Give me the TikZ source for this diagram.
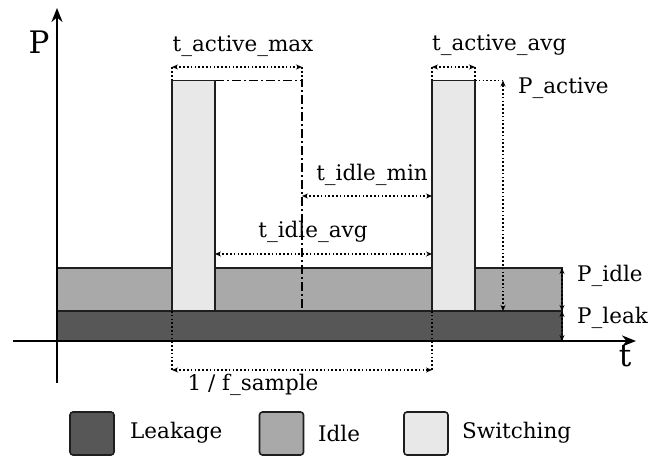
\documentclass[tikz,border=0pt]{standalone}
\usepackage{fontspec}
\setmainfont{DejaVu Serif}
\usetikzlibrary{arrows.meta}
\definecolor{leakc}{HTML}{575757}
\definecolor{idlec}{HTML}{A9A9A9}
\definecolor{swc}{HTML}{E8E8E8}
\definecolor{linec}{HTML}{1E1E1E}
\tikzset{
  band/.style={draw=linec, line width=1.6pt},
  axis/.style={line width=2.6pt, -{Stealth[length=14pt,width=11pt]}},
  dimarrow/.style={line width=1.3pt, dash pattern=on 1.6pt off 2.2pt, {Stealth[length=6pt,width=5pt]}-{Stealth[length=6pt,width=5pt]}},
  dimline/.style={line width=1.3pt, dash pattern=on 1.6pt off 2.2pt},
  dashdot/.style={line width=1.5pt, dash pattern=on 9pt off 3pt on 2pt off 3pt},
  lbl/.style={font=\fontsize{21.5}{23}\selectfont, inner sep=0pt},
  biglbl/.style={font=\fontsize{31}{33}\selectfont, inner sep=0pt},
  legbox/.style={draw=linec, line width=1.6pt, rounded corners=3pt, minimum width=44pt, minimum height=43pt, inner sep=0pt}
}
\begin{document}
\begin{tikzpicture}[x=1pt,y=-1pt]
\useasboundingbox (0,0) rectangle (657,457);
% coordinates
\coordinate (o) at (57,341);
\coordinate (ytop) at (57,8);
\coordinate (ybot) at (57,383);
\coordinate (xl) at (13,341);
\coordinate (xr) at (636,341);
% bands
\draw[band, fill=leakc] (57,311) rectangle (562,341);
\draw[band, fill=idlec] (57,268) rectangle (562,311);
% dash-dot
\coordinate (dd1) at (215,80.5);
\coordinate (dd2) at (302,80.5);
\coordinate (dd3) at (302,311);
\draw[dashdot] (dd1) -- (dd2) -- (dd3);
% switching bars
\draw[band, fill=swc] (172,80.5) rectangle (215,311);
\draw[band, fill=swc] (432,80.5) rectangle (475,311);
% axes
\draw[axis] (ybot) -- (ytop);
\draw[axis] (xl) -- (xr);
\node[biglbl] (P) at (39,42) {P};
\node[biglbl] (t) at (625,356) {t};
% t_active_max
\coordinate (am1) at (172,67);
\coordinate (am2) at (302,67);
\draw[dimline] (172,80.5) -- (am1);
\draw[dimline] (302,80.5) -- (am2);
\draw[dimarrow] (am1) -- (am2);
\node[lbl] (tam) at (243,46) {t\_active\_max};
% t_active_avg
\coordinate (aa1) at (432,67);
\coordinate (aa2) at (475,67);
\draw[dimline] (432,80.5) -- (aa1);
\draw[dimline] (475,80.5) -- (aa2);
\draw[dimarrow] (aa1) -- (aa2);
\node[lbl, anchor=west] (taa) at (432,45) {t\_active\_avg};
% P_active
\coordinate (pa0) at (475,80.5);
\coordinate (pa1) at (503,80.5);
\coordinate (pa2) at (503,311);
\draw[dimline] (pa0) -- (pa1);
\draw[dimarrow] (pa2) -- (pa1);
\node[lbl, anchor=west] (pact) at (518,88) {P\_active};
% t_idle_min
\coordinate (im1) at (302,196);
\coordinate (im2) at (432,196);
\draw[dimarrow] (im1) -- (im2);
\node[lbl] (tim) at (372,175) {t\_idle\_min};
% t_idle_avg
\coordinate (ia1) at (215,254);
\coordinate (ia2) at (432,254);
\draw[dimarrow] (ia1) -- (ia2);
\node[lbl] (tia) at (313,232) {t\_idle\_avg};
% P_idle / P_leak
\coordinate (pi1) at (562,268);
\coordinate (pi2) at (562,311);
\coordinate (pl1) at (562,341);
\draw[dimarrow] (pi1) -- (pi2);
\draw[dimarrow] (pi2) -- (pl1);
\node[lbl, anchor=west] (pidle) at (577,276) {P\_idle};
\node[lbl, anchor=west] (pleak) at (577,318) {P\_leak};
% 1/f_sample
\coordinate (fs0) at (172,311);
\coordinate (fs1) at (172,370);
\coordinate (fs3) at (432,311);
\coordinate (fs2) at (432,370);
\draw[dimline] (fs0) -- (fs1);
\draw[dimline] (fs3) -- (fs2);
\draw[dimarrow] (fs1) -- (fs2);
\node[lbl] (fsl) at (253,385) {1 / f\_sample};
% legend
\node[legbox, fill=leakc] (lb1) at (92,433.5) {};
\node[legbox, fill=idlec] (lb2) at (281.5,433.5) {};
\node[legbox, fill=swc] (lb3) at (426,433.5) {};
\node[lbl, anchor=west] (ll1) at (130,433) {Leakage};
\node[lbl, anchor=west] (ll2) at (318,433) {Idle};
\node[lbl, anchor=west] (ll3) at (462,433) {Switching};
\end{tikzpicture}
\end{document}
